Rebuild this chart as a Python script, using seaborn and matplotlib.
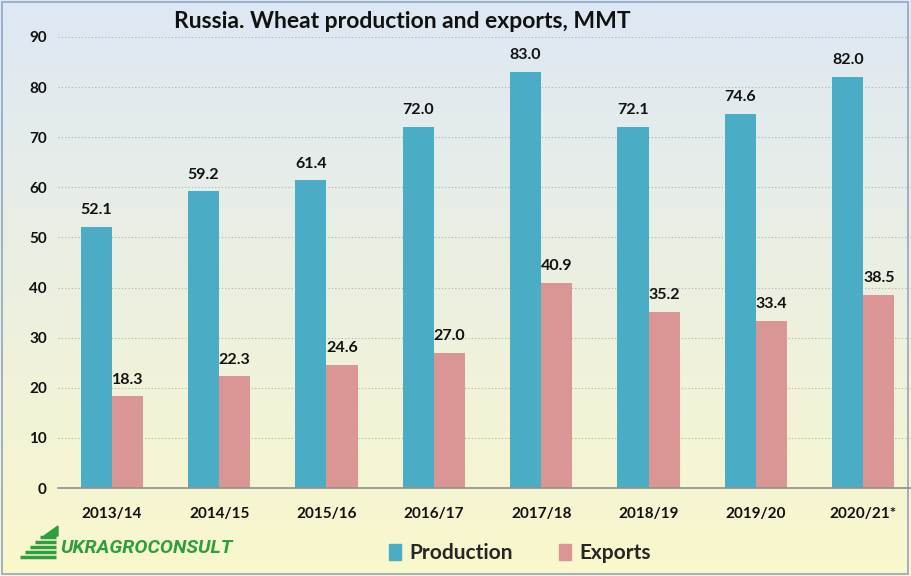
import matplotlib.pyplot as plt
import matplotlib.patches as mpatches
import numpy as np
import pandas as pd
import seaborn as sns

# data
seasons = ['2013/14', '2014/15', '2015/16', '2016/17', '2017/18', '2018/19', '2019/20', '2020/21*']
production = [52.1, 59.2, 61.4, 72.0, 83.0, 72.1, 74.6, 82.0]
exports = [18.3, 22.3, 24.6, 27.0, 40.9, 35.2, 33.4, 38.5]

df = pd.DataFrame({'season': seasons * 2,
                   'value': production + exports,
                   'kind': ['Production'] * len(seasons) + ['Exports'] * len(seasons)})

sns.set_theme(style='white')
plt.rcParams['font.family'] = ['Lato', 'DejaVu Sans']

fig = plt.figure(figsize=(9.11, 5.76), dpi=100)

# background gradient (light blue -> light yellow)
bg = fig.add_axes([0, 0, 1, 1], zorder=-10)
top = np.array([0.87, 0.91, 0.96])
bot = np.array([0.98, 0.97, 0.80])
t = np.linspace(0, 1, 256)[:, None]
grad = top * (1 - t) + bot * t
bg.imshow(grad[:, None, :].repeat(2, axis=1), aspect='auto', extent=[0, 1, 0, 1])
bg.axis('off')
bg.set_xlim(0, 1)
bg.set_ylim(0, 1)
bg.add_patch(mpatches.Rectangle((0.002, 0.003), 0.995, 0.993, fill=False,
                                edgecolor='#8ea6c4', linewidth=1.2, transform=bg.transAxes))

ax = fig.add_axes([58 / 911, 1 - 488 / 576, 859 / 911, 451 / 576])
ax.patch.set_alpha(0)

colors = {'Production': '#4bacc6', 'Exports': '#d99694'}
sns.barplot(data=df, x='season', y='value', hue='kind', palette=colors,
            width=0.58, ax=ax, legend=False, saturation=1, linewidth=0)

for cont in ax.containers:
    ax.bar_label(cont, fmt='%.1f', padding=7, fontsize=11.5, fontweight='bold', color='#111111')

ax.set_ylim(0, 90)
ax.set_xlim(-0.5, 7.5)
ax.set_yticks(range(0, 91, 10))
ax.grid(axis='y', linestyle=(0, (1, 2)), color='#b0b0b0', linewidth=0.8)
ax.set_axisbelow(True)
for s in ['top', 'right', 'left']:
    ax.spines[s].set_visible(False)
ax.spines['bottom'].set_color('#909090')
ax.spines['bottom'].set_linewidth(1.2)
ax.tick_params(axis='both', length=0, labelsize=11, colors='#111111')
ax.tick_params(axis='x', pad=14)
ax.tick_params(axis='y', pad=8)
for lab in ax.get_xticklabels() + ax.get_yticklabels():
    lab.set_fontweight('bold')
ax.set_xlabel('')
ax.set_ylabel('')

fig.text(402 / 911, 1 - 22 / 576, 'Russia. Wheat production and exports, MMT',
         ha='center', va='center', fontsize=16.5, fontweight='bold', color='#111111')

# legend
handles = [mpatches.Patch(color=colors['Production'], label='Production'),
           mpatches.Patch(color=colors['Exports'], label='Exports')]
fig.legend(handles=handles, loc='center', bbox_to_anchor=(520 / 911, 1 - 553 / 576),
           ncol=2, frameon=False, handlelength=0.6, handleheight=0.8,
           handletextpad=0.4, columnspacing=2.2, prop={'weight': 'bold', 'size': 15})

# logo: green stripes with a triangle, then the name
green = '#2e9e3e'
for i in range(5):
    y0 = 1 - (557 - i * 5) / 576
    x0 = (20 + i * 5) / 911
    bg.plot([x0, 56 / 911], [y0, y0], color=green, linewidth=2.5, solid_capstyle='butt')
bg.fill([44 / 911, 58 / 911, 58 / 911], [1 - 536 / 576, 1 - 526 / 576, 1 - 536 / 576], color=green)
fig.text(60 / 911, 1 - 548 / 576, 'UKRAGROCONSULT', ha='left', va='center', fontsize=14,
         fontweight='bold', fontstyle='italic', color=green, family=['Roboto', 'DejaVu Sans'])

fig.savefig('out.png', dpi=100)
